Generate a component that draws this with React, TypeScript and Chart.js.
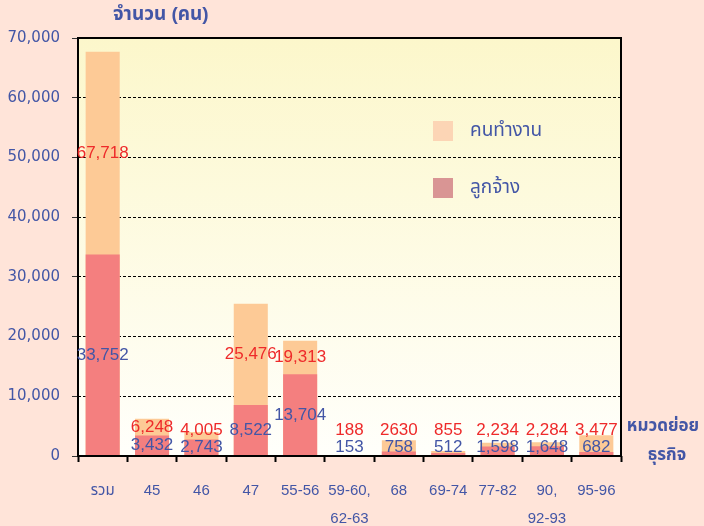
import React, { useEffect, useRef } from "react";
import { Chart, registerables } from "chart.js";

Chart.register(...registerables);

// ---- data ----
const categories: (string | string[])[] = [
  "รวม", "45", "46", "47", "55-56", ["59-60,", "62-63"], "68", "69-74", "77-82", ["90,", "92-93"], "95-96",
];
const workers = [67718, 6248, 4005, 25476, 19313, 188, 2630, 855, 2234, 2284, 3477];
const employees = [33752, 3432, 2743, 8522, 13704, 153, 758, 512, 1598, 1648, 682];
const workerLabels = ["67,718", "6,248", "4,005", "25,476", "19,313", "188", "2630", "855", "2,234", "2,284", "3,477"];
const employeeLabels = ["33,752", "3,432", "2,743", "8,522", "13,704", "153", "758", "512", "1,598", "1,648", "682"];
const seriesNames = ["คนทำงาน", "ลูกจ้าง"];
const yTitle = "จำนวน (คน)";
const xTitle = ["หมวดย่อย", "ธุรกิจ"];
const yMin = 0;
const yMax = 70000;
const yStep = 10000;

// ---- styles ----
const PAGE_BG = "#FFE4D9";
const BLUE = "#4356A6";
const RED = "#EE2A2A";
const ORANGE = "#FDCA96";
const PINK = "#F47F7F";
const LEG_ORANGE = "#FCD5B5";
const LEG_PINK = "#D99594";
const THAI = '"Liberation Sans", "Noto Sans Thai", "Tahoma", sans-serif';
const NUM = '"DejaVu Sans", sans-serif';
const LBL = '"Liberation Sans", sans-serif';

const fmt = (v: number) => v.toLocaleString("en-US");

const decorPlugin = {
  id: "decor",
  beforeDraw(chart: any) {
    const { ctx, chartArea: a } = chart;
    ctx.save();
    const g = ctx.createLinearGradient(0, a.top, 0, a.bottom);
    g.addColorStop(0, "#FCF7CB");
    g.addColorStop(1, "#FFFFFB");
    ctx.fillStyle = g;
    ctx.fillRect(a.left, a.top, a.right - a.left, a.bottom - a.top);
    ctx.restore();
  },
  afterDatasetsDraw(chart: any) {
    const { ctx, chartArea: a } = chart;
    const xS = chart.scales.x;
    const yS = chart.scales.y;
    ctx.save();
    // frame
    ctx.strokeStyle = "#000";
    ctx.lineWidth = 2;
    ctx.strokeRect(a.left, a.top, a.right - a.left, a.bottom - a.top);

    // value labels
    const base = yS.getPixelForValue(0);
    ctx.font = `17px ${LBL}`;
    ctx.textAlign = "center";
    ctx.textBaseline = "middle";
    categories.forEach((_, i) => {
      const x = xS.getPixelForValue(i);
      const empY = Math.min(yS.getPixelForValue(employees[i] / 2), base - 9);
      const midTop = yS.getPixelForValue((employees[i] + workers[i]) / 2);
      const totY = Math.min(midTop, empY - 17);
      ctx.fillStyle = BLUE;
      ctx.fillText(employeeLabels[i], x, empY);
      ctx.fillStyle = RED;
      ctx.fillText(workerLabels[i], x, totY);
    });

    // legend
    const lx = a.left + 355;
    const rows = [a.top + 93, a.top + 150];
    const cols = [LEG_ORANGE, LEG_PINK];
    ctx.textAlign = "left";
    ctx.font = `19px ${THAI}`;
    rows.forEach((ry, k) => {
      ctx.fillStyle = cols[k];
      ctx.fillRect(lx, ry - 10, 20, 20);
      ctx.fillStyle = BLUE;
      ctx.fillText(seriesNames[k], lx + 37, ry);
    });

    // axis titles
    ctx.font = `bold 19px ${THAI}`;
    ctx.fillStyle = BLUE;
    ctx.textAlign = "left";
    ctx.fillText(yTitle, 113, 15);
    ctx.textAlign = "center";
    ctx.font = `bold 17px ${THAI}`;
    ctx.fillText(xTitle[0], a.right + 42, 426);
    ctx.fillText(xTitle[1], a.right + 46, 455);
    ctx.restore();
  },
};

export default function App() {
  const ref = useRef<HTMLCanvasElement>(null);
  useEffect(() => {
    if (!ref.current) return;
    const chart = new Chart(ref.current, {
      type: "bar",
      data: {
        labels: categories as any,
        datasets: [
          {
            label: seriesNames[0],
            data: workers,
            backgroundColor: ORANGE,
            order: 1,
            grouped: false,
            barPercentage: 0.69,
            categoryPercentage: 1,
          } as any,
          {
            label: seriesNames[1],
            data: employees,
            backgroundColor: PINK,
            order: 0,
            grouped: false,
            barPercentage: 0.69,
            categoryPercentage: 1,
          } as any,
        ],
      },
      options: {
        responsive: false,
        animation: false,
        devicePixelRatio: 1,
        layout: { padding: { top: 38, right: 83, left: 0, bottom: 0 } },
        plugins: {
          legend: { display: false },
          tooltip: { enabled: false },
          title: { display: false },
        },
        scales: {
          x: {
            grid: {
              drawOnChartArea: false,
              drawTicks: true,
              tickLength: 6,
              offset: true,
              color: "#000",
              tickColor: "#000",
              tickWidth: 2,
            },
            border: { display: false },
            ticks: {
              color: BLUE,
              font: { family: THAI, size: 15, lineHeight: 1.85 },
              padding: 15,
              maxRotation: 0,
              autoSkip: false,
            },
            afterFit: (s: any) => {
              s.height = 70;
            },
          },
          y: {
            min: yMin,
            max: yMax,
            ticks: {
              stepSize: yStep,
              color: BLUE,
              font: { family: NUM, size: 15 },
              padding: 12,
              callback: (v: any) => fmt(Number(v)),
            },
            grid: {
              color: "#000",
              lineWidth: 1,
              drawTicks: true,
              tickLength: 6,
              tickColor: "#333",
              tickWidth: 1,
            },
            border: { display: false, dash: [3, 2] },
            afterFit: (s: any) => {
              s.width = 78;
            },
          },
        },
      },
      plugins: [decorPlugin],
    });
    return () => chart.destroy();
  }, []);

  return (
    <div
      style={{
        position: "fixed",
        left: 0,
        top: 0,
        width: 704,
        height: 526,
        background: PAGE_BG,
      }}
    >
      <canvas ref={ref} width={704} height={526} style={{ display: "block" }} />
    </div>
  );
}
